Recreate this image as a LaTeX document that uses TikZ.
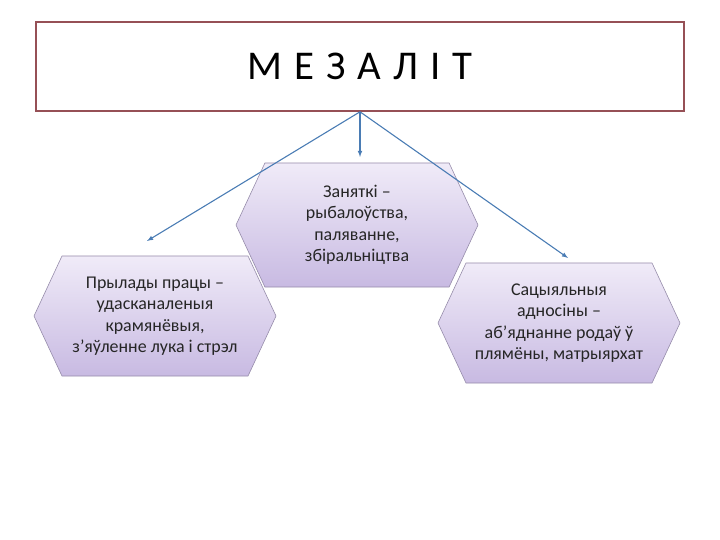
\documentclass[tikz,border=0pt]{standalone}
\usepackage{fontspec}
\setmainfont{Carlito}
\usepackage{tikz}
\usetikzlibrary{arrows,shapes.symbols}

\definecolor{ramka}{RGB}{150,80,86}
\definecolor{strela}{RGB}{74,124,180}
\definecolor{lilaV}{RGB}{240,235,248}
\definecolor{lilaN}{RGB}{200,186,226}
\definecolor{lilaK}{RGB}{150,140,170}

\tikzset{
  shest/.style={signal, signal to=west and east, signal pointer angle=130,
    draw=lilaK, line width=0.6pt, top color=lilaV, bottom color=lilaN,
    minimum width=242bp, minimum height=120bp, inner sep=0pt,
    align=center, font=\fontsize{18}{21.6}\selectfont, text=black!85},
  strelka/.style={->, draw=strela, line width=1.1pt}
}

\begin{document}
\begin{tikzpicture}[>=latex, x=1bp, y=-1bp]
		\useasboundingbox (0,0) rectangle (720,540);
		%Zagalovak
		\node [draw=ramka, line width=1.6pt, minimum width=648bp, minimum height=89bp,
		  font=\fontsize{41}{48}\selectfont] (title) at (360,66.5) {\spaceskip=12bp М Е З А Л І Т};
		%Shastsikutniki
		\node [shest, minimum height=124bp] (zaniatki) at (357,225) {Заняткі –\\рыбалоўства,\\паляванне,\\збіральніцтва};
		\node [shest] (prylady) at (155,316) {Прылады працы –\\удасканаленыя\\крамянёвыя,\\з’яўленне лука і стрэл};
		\node [shest] (adnosiny) at (559,323) {Сацыяльныя\\адносіны –\\аб’яднанне родаў ў\\плямёны, матрыярхат};
		%Strelki
		\coordinate (lend) at (147,241);
		\coordinate (cend) at (360,157);
		\coordinate (rend) at (568,258);
		\draw [strelka] (title.south) -- (lend);
		\draw [strelka] (title.south) -- (cend);
		\draw [strelka] (title.south) -- (rend);
\end{tikzpicture}
\end{document}
